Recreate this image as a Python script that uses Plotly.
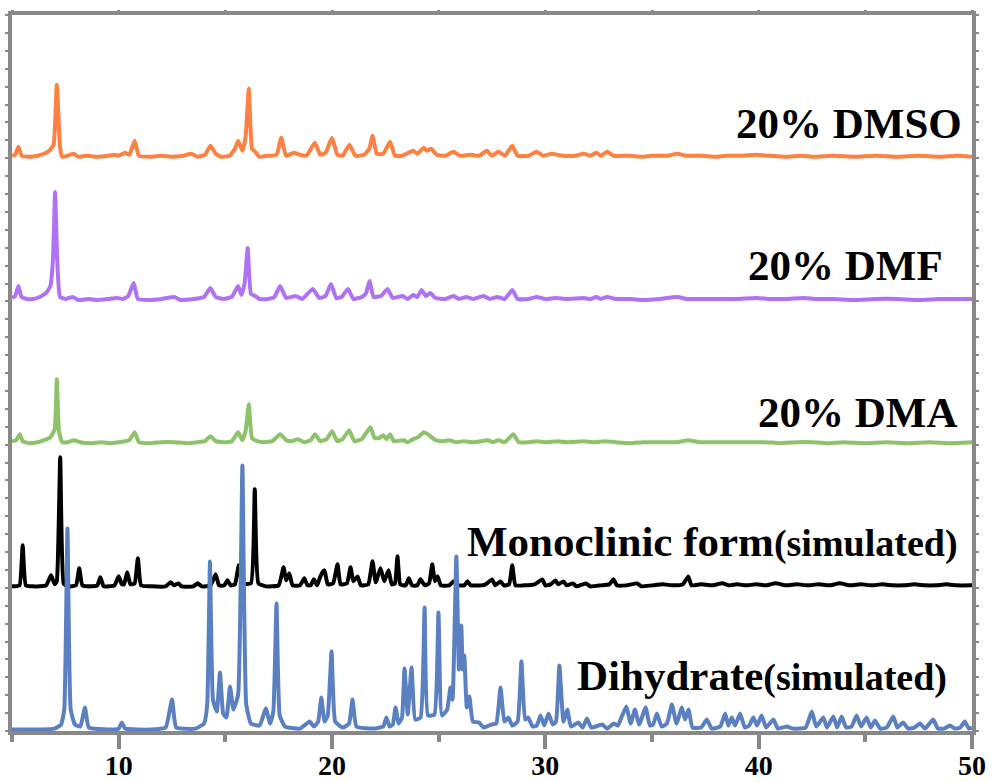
import plotly.graph_objects as go

# ---------------- data (2-theta in degrees, intensity in a.u.) ----------------
dmso = [(5.0,1),(5.15,2),(5.3,10),(5.45,1),(5.8,0),(6.2,1),(6.5,3),(6.75,6),(6.95,12),(7.1,72),(7.25,10),(7.35,0),
        (7.6,1),(7.9,3),(8.1,0),(8.5,1),(9.0,0),(9.5,1),(9.8,2),(10.0,1),(10.3,4),(10.5,2),(10.75,16),(10.95,1),
        (11.5,0),(12.0,1),(12.5,0),(13.0,1),(13.4,3),(13.7,0),(14.05,2),(14.3,11),(14.55,3),(14.8,0),(15.2,1),
        (15.45,8),(15.6,16),(15.8,6),(15.95,20),(16.1,68),(16.25,8),(16.4,5),(16.6,0),(17.0,1),(17.4,2),(17.62,19),
        (17.85,1),(18.2,4),(18.5,2),(18.8,1),(19.2,14),(19.45,2),(19.7,4),(20.0,19),(20.25,2),(20.5,1),(20.82,12),
        (21.1,1),(21.5,2),(21.75,8),(21.9,21),(22.1,3),(22.4,3),(22.72,15),(22.95,1),(23.3,1),(23.8,6),(24.0,3),
        (24.3,9),(24.45,6),(24.65,8),(24.9,2),(25.3,1),(25.7,5),(26.0,1),(26.5,2),(26.9,1),(27.25,6),(27.5,1),
        (27.8,5),(28.1,1),(28.45,11),(28.7,1),(29.2,1),(29.6,5),(29.9,1),(30.3,3),(30.8,1),(31.4,1),(31.8,3),
        (32.1,1),(32.4,4),(32.6,1),(32.9,5),(33.2,1),(34.0,1),(34.5,0),(35.0,1),(35.7,1),(36.2,3),(36.6,1),
        (37.3,1),(38.0,0),(38.5,1),(39.2,1),(39.9,2),(40.5,1),(41.3,0),(42.0,1),(42.6,0),(43.5,1),(44.5,0),
        (45.5,1),(46.5,0),(47.5,1),(48.5,0),(49.3,1),(50.0,0)]

dmf = [(5.0,2),(5.15,4),(5.3,14),(5.45,3),(5.7,1),(6.0,1),(6.3,3),(6.6,7),(6.8,14),(6.92,40),(7.02,108),(7.12,40),
       (7.25,3),(7.5,1),(7.85,3),(8.1,0),(8.6,1),(9.0,0),(9.5,1),(9.9,2),(10.2,1),(10.45,4),(10.7,17),(10.9,1),
       (11.4,0),(12.0,1),(12.6,3),(12.9,0),(13.5,1),(14.0,3),(14.3,12),(14.55,3),(14.9,1),(15.3,3),(15.6,14),
       (15.75,5),(15.9,16),(16.05,52),(16.2,6),(16.4,4),(16.6,1),(17.0,1),(17.3,3),(17.57,14),(17.85,2),(18.3,4),
       (18.6,1),(19.1,11),(19.4,2),(19.7,4),(19.95,16),(20.2,2),(20.45,3),(20.75,11),(21.0,1),(21.4,3),(21.6,7),
       (21.76,19),(21.95,3),(22.3,4),(22.6,11),(22.85,2),(23.3,4),(23.55,1),(23.8,5),(24.0,3),(24.2,10),(24.4,4),
       (24.6,7),(24.85,2),(25.3,1),(25.7,4),(25.95,1),(26.3,3),(26.6,1),(27.1,4),(27.4,1),(27.75,3),(28.1,1),
       (28.45,10),(28.7,1),(29.2,1),(29.6,3),(30.0,1),(30.5,2),(31.0,1),(31.8,2),(32.1,1),(32.4,3),(32.6,1),
       (32.9,3),(33.3,1),(34.0,1),(34.6,0),(35.3,1),(36.2,3),(36.6,1),(37.5,1),(38.2,1),(39.0,1),(39.9,2),
       (40.5,1),(41.3,1),(42.1,2),(42.7,1),(43.5,1),(44.5,0),(45.5,1),(46.5,1),(47.5,0),(48.5,1),(49.5,1),(50.0,1)]

dma = [(5.0,2),(5.2,3),(5.37,9),(5.5,2),(5.8,0),(6.2,1),(6.5,3),(6.8,6),(7.0,14),(7.1,64),(7.2,12),(7.35,1),
       (7.6,1),(7.9,3),(8.2,1),(8.7,0),(9.2,1),(9.6,0),(10.0,1),(10.3,2),(10.5,3),(10.75,11),(10.95,1),(11.5,0),
       (12.0,1),(12.6,1),(13.2,0),(13.7,1),(14.05,2),(14.3,7),(14.55,2),(14.9,1),(15.3,2),(15.6,11),(15.8,3),
       (15.95,12),(16.1,39),(16.25,5),(16.5,2),(16.8,1),(17.2,2),(17.57,9),(17.85,3),(18.1,2),(18.4,4),(18.7,1),
       (19.0,3),(19.2,9),(19.45,2),(19.75,4),(20.0,12),(20.25,2),(20.5,4),(20.8,13),(21.05,2),(21.4,4),(21.8,16),
       (22.0,5),(22.2,5),(22.4,8),(22.55,4),(22.72,9),(22.9,2),(23.35,3),(23.55,1),(23.8,4),(24.05,6),(24.3,11),
       (24.55,8),(24.85,3),(25.2,2),(25.5,3),(25.8,1),(26.2,2),(26.6,1),(27.0,2),(27.3,3),(27.55,1),(27.8,3),
       (28.1,1),(28.5,9),(28.75,1),(29.2,1),(29.6,2),(30.0,1),(30.6,2),(31.0,1),(31.8,2),(32.3,1),(32.8,2),
       (33.3,1),(34.0,0),(34.6,1),(35.4,1),(36.2,1),(36.7,3),(37.2,1),(38.0,1),(38.8,1),(39.5,1),(40.3,1),
       (41.0,0),(41.8,1),(42.5,1),(43.2,0),(44.0,1),(45.0,0),(46.0,1),(47.0,0),(48.0,1),(49.0,0),(50.0,1)]

monoclinic = [(5.0,0),(5.35,1),(5.5,41),(5.65,1),(6.0,0),(6.6,1),(6.83,11),(7.0,2),(7.1,5),(7.26,129),(7.42,3),
              (7.6,0),(8.0,1),(8.15,18),(8.3,1),(8.7,0),(9.0,1),(9.14,9),(9.3,0),(9.8,1),(10.0,10),(10.15,2),
              (10.25,2),(10.4,14),(10.55,2),(10.75,3),(10.9,28),(11.05,1),(11.5,0),(12.2,0),(12.44,4),(12.6,1),
              (12.8,3),(12.95,0),(13.5,0),(13.7,3),(13.9,0),(14.3,1),(14.55,12),(14.7,1),(14.95,1),(15.1,6),
              (15.25,1),(15.45,2),(15.63,21),(15.8,3),(16.2,3),(16.38,97),(16.55,3),(16.9,0),(17.5,1),(17.73,19),
              (17.85,6),(18.0,13),(18.15,1),(18.5,1),(18.7,8),(18.85,1),(19.0,1),(19.15,7),(19.3,1),(19.42,8),
              (19.55,14),(19.65,16),(19.8,2),(20.05,3),(20.26,22),(20.4,2),(20.7,3),(20.87,19),(21.0,5),(21.2,10),
              (21.35,1),(21.7,2),(21.9,25),(22.05,4),(22.27,18),(22.45,5),(22.65,16),(22.8,2),(22.95,3),(23.07,30),
              (23.2,2),(23.45,1),(23.6,8),(23.75,1),(24.0,1),(24.15,7),(24.35,1),(24.55,3),(24.7,22),(24.82,5),
              (24.95,10),(25.1,1),(25.5,1),(25.7,5),(25.9,1),(26.2,1),(26.35,5),(26.5,1),(27.0,1),(27.2,2),
              (27.5,7),(27.65,1),(27.9,5),(28.05,1),(28.3,2),(28.45,21),(28.6,1),(29.0,1),(29.5,2),(29.86,7),
              (30.0,1),(30.25,2),(30.47,6),(30.6,2),(30.85,5),(31.0,1),(31.3,3),(31.45,0),(31.9,3),(32.1,0),
              (32.6,1),(33.0,2),(33.2,7),(33.35,1),(33.8,1),(34.3,3),(34.5,0),(35.0,1),(35.5,2),(36.0,1),
              (36.45,2),(36.7,10),(36.85,1),(37.3,2),(37.8,1),(38.3,3),(38.6,1),(39.0,2),(39.4,1),(39.9,2),
              (40.3,1),(40.8,3),(41.3,1),(41.8,2),(42.3,1),(42.8,2),(43.3,1),(43.8,3),(44.3,1),(44.8,2),
              (45.3,1),(45.8,2),(46.3,1),(46.8,1),(47.3,2),(47.8,1),(48.3,1),(48.8,2),(49.3,1),(50.0,1)]

dihydrate = [(5.0,0),(7.0,1),(7.3,5),(7.45,20),(7.6,201),(7.75,20),(7.95,5),(8.2,3),(8.42,22),(8.6,2),(9.5,0),
             (10.0,1),(10.15,7),(10.3,1),(11.5,0),(12.2,2),(12.5,30),(12.7,2),(13.6,1),(14.0,6),(14.15,25),
             (14.28,168),(14.42,30),(14.6,18),(14.75,57),(14.9,16),(15.05,12),(15.22,43),(15.38,20),(15.6,35),
             (15.8,264),(15.98,25),(16.2,6),(16.6,4),(16.9,21),(17.1,6),(17.25,18),(17.4,126),(17.55,14),
             (17.8,3),(18.5,1),(18.95,8),(19.15,3),(19.35,8),(19.5,32),(19.65,8),(19.8,14),(19.98,78),(20.15,8),
             (20.5,2),(20.8,6),(20.96,30),(21.15,3),(22.0,1),(22.4,3),(22.55,12),(22.7,3),(22.85,5),(22.98,22),
             (23.12,6),(23.28,12),(23.4,61),(23.55,15),(23.73,62),(23.9,10),(24.15,12),(24.34,122),(24.5,14),
             (24.8,15),(24.99,117),(25.15,14),(25.4,20),(25.55,42),(25.65,30),(25.83,173),(25.95,60),(26.06,104),
             (26.13,60),(26.2,74),(26.32,22),(26.44,33),(26.6,8),(26.9,7),(27.1,2),(27.47,5),(27.7,6),(27.9,42),
             (28.08,8),(28.27,12),(28.45,4),(28.7,8),(28.88,68),(29.05,10),(29.2,12),(29.4,3),(29.6,4),(29.77,14),
             (29.95,4),(30.15,16),(30.35,5),(30.5,8),(30.66,64),(30.85,8),(31.03,20),(31.2,3),(31.55,7),
             (31.75,2),(31.95,11),(32.15,2),(32.67,5),(32.9,1),(33.2,6),(33.4,4),(33.6,14),(33.8,23),(34.0,6),
             (34.2,20),(34.4,5),(34.7,22),(34.9,4),(35.05,5),(35.23,16),(35.45,3),(35.7,6),(35.93,25),(36.15,6),
             (36.4,22),(36.55,10),(36.71,20),(36.9,2),(37.3,2),(37.57,10),(37.8,1),(38.2,3),(38.43,16),(38.58,4),
             (38.74,12),(38.9,4),(39.13,16),(39.35,2),(39.55,4),(39.75,12),(39.92,4),(40.14,14),(40.35,2),
             (40.69,10),(40.9,1),(41.32,3),(41.6,1),(42.2,2),(42.49,18),(42.7,3),(43.03,12),(43.2,2),(43.5,13),
             (43.68,2),(43.89,13),(44.1,2),(44.35,3),(44.59,14),(44.8,3),(45.06,12),(45.25,2),(45.45,9),(45.7,1),
             (46.0,2),(46.31,13),(46.5,2),(46.77,7),(47.0,1),(47.3,2),(47.56,6),(47.8,1),(48.18,10),(48.4,1),
             (48.7,1),(48.96,4),(49.2,1),(49.45,2),(49.66,8),(49.85,1),(50.0,2)]

series_names = ["20% DMSO", "20% DMF", "20% DMA", "Monoclinic form(simulated)", "Dihydrate(simulated)"]
series_data = [dmso, dmf, dma, monoclinic, dihydrate]
x_tick_values = [10, 20, 30, 40, 50]
x_tick_labels = ["10", "20", "30", "40", "50"]

# ---------------- styling ----------------
offsets = [4.0, 3.0, 2.0, 1.0, 0.0]
scale = 1 / 143.2
colors = ["#FF8142", "#AE72F2", "#8DC26A", "#000000", "#5A80C2"]
GREY = "#888888"
SERIF = "Liberation Serif, Times New Roman, serif"

fig = go.Figure()
for name, data, off, col in zip(series_names, series_data, offsets, colors):
    xs = [p[0] for p in data]
    ys = [off + p[1] * scale for p in data]
    fig.add_trace(go.Scatter(x=xs, y=ys, mode="lines", name=name,
                             line=dict(color=col, width=4, shape="spline", smoothing=0.4),
                             showlegend=False, hoverinfo="skip"))

# invisible trace so the top tick axis is drawn
fig.add_trace(go.Scatter(x=[None], y=[None], xaxis="x2", yaxis="y", showlegend=False))

labels = [
    ("<b>20% DMSO</b>", 49.62, 4.23),
    ("<b>20% DMF</b>", 48.72, 3.24),
    ("<b>20% DMA</b>", 49.40, 2.215),
    ("<b>Monoclinic form<span style='font-size:38px'>(simulated)</span></b>", 49.42, 1.31),
    ("<b>Dihydrate<span style='font-size:38px'>(simulated)</span></b>", 48.90, 0.38),
]
for txt, x, y in labels:
    fig.add_annotation(x=x, y=y, xref="x", yref="y", text=txt, showarrow=False,
                       xanchor="right", yanchor="middle",
                       font=dict(family=SERIF, size=43, color="black"))

xr = [5, 50]
fig.update_layout(
    width=992, height=782,
    margin=dict(l=12, r=20, t=15, b=51, autoexpand=False),
    paper_bgcolor="white", plot_bgcolor="white",
    xaxis=dict(range=xr, showgrid=False, zeroline=False, automargin=False,
               showline=True, mirror=True, linecolor=GREY, linewidth=4,
               ticks="outside", ticklen=14, tickwidth=4, tickcolor=GREY,
               tickvals=x_tick_values, ticktext=x_tick_labels, ticklabelstandoff=-8,
               tickfont=dict(family=SERIF, size=28, color="black", weight="bold"),
               minor=dict(ticks="outside", ticklen=7, tickwidth=4, tickcolor=GREY, dtick=5, tick0=0)),
    xaxis2=dict(range=xr, overlaying="x", side="top", showgrid=False, zeroline=False, automargin=False,
                showline=False, ticks="outside", ticklen=4, tickwidth=3, tickcolor=GREY,
                dtick=5, tick0=0, showticklabels=False),
    yaxis=dict(range=[-0.01, 4.99], showgrid=False, zeroline=False, automargin=False,
               showline=True, mirror="ticks", linecolor=GREY, linewidth=4,
               ticks="outside", ticklen=3, tickwidth=2, tickcolor=GREY,
               tick0=-0.01, dtick=0.125, showticklabels=False),
)

fig.write_html("out.html")
